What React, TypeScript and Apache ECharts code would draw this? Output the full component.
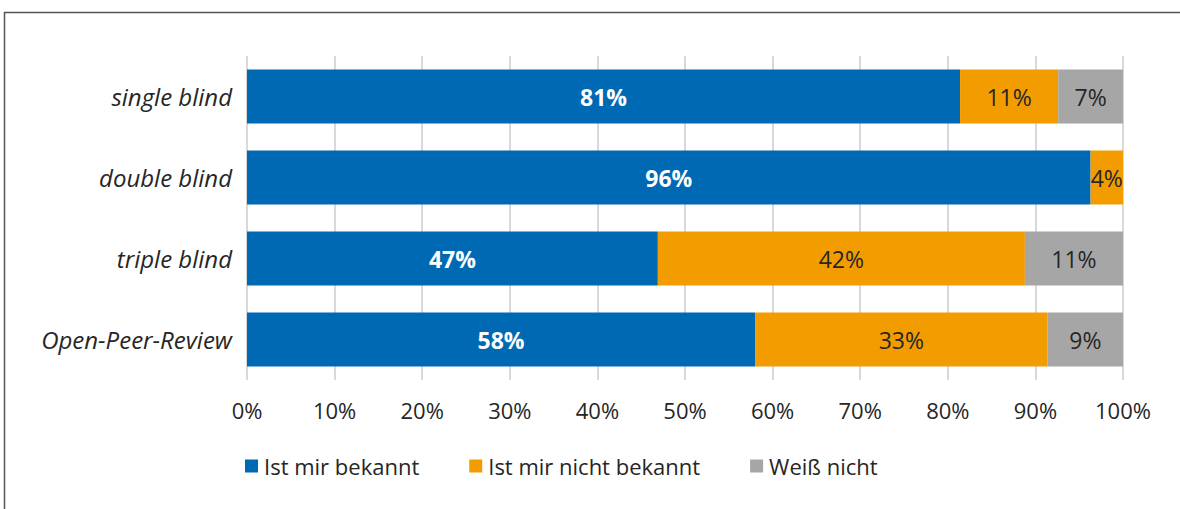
import React, { useEffect, useRef } from "react";
import * as echarts from "echarts";

const categories = ["single blind", "double blind", "triple blind", "Open-Peer-Review"];
const seriesNames = ["Ist mir bekannt", "Ist mir nicht bekannt", "Weiß nicht"];
const known = [81.4, 96.3, 46.9, 58.0];
const notKnown = [11.2, 3.7, 41.9, 33.4];
const dontKnow = [7.4, 0, 11.2, 8.6];
const colors = ["#0069B4", "#F39C00", "#A6A6A6"];

const FONT = "Open Sans";
const TEXT = "#262626";

export default function App() {
  const ref = useRef<HTMLDivElement>(null);
  useEffect(() => {
    const chart = echarts.init(ref.current!, null, { renderer: "svg" });
    const mk = (name: string, data: number[], i: number) => ({
      name,
      type: "bar",
      stack: "total",
      data,
      barWidth: 54,
      itemStyle: { color: colors[i] },
      label: {
        show: true,
        position: "inside",
        fontFamily: FONT,
        fontSize: 23,
        fontWeight: i === 0 ? "bold" : "normal",
        color: i === 0 ? "#ffffff" : TEXT,
        formatter: (p: any) => (p.value > 0 ? Math.round(p.value) + "%" : ""),
      },
    });
    chart.setOption({
      animation: false,
      graphic: [
        { type: "line", shape: { x1: 4, y1: 12.5, x2: 1180, y2: 12.5 }, style: { stroke: "#555", lineWidth: 1.5 } },
        { type: "line", shape: { x1: 4.5, y1: 12, x2: 4.5, y2: 509 }, style: { stroke: "#555", lineWidth: 1.5 } },
      ],
      grid: { left: 247, right: 57, top: 56, bottom: 129 },
      legend: {
        left: 240,
        top: 450,
        itemWidth: 13,
        itemHeight: 13,
        itemGap: 50,
        icon: "rect",
        textStyle: { fontFamily: FONT, fontSize: 22, color: TEXT, padding: [0, 0, 0, 1] },
        data: seriesNames,
      },
      xAxis: {
        type: "value",
        min: 0,
        max: 100,
        interval: 10,
        axisLine: { show: false },
        axisTick: { show: false },
        axisLabel: { formatter: "{value}%", fontFamily: FONT, fontSize: 22, color: TEXT, margin: 19 },
        splitLine: { show: true, lineStyle: { color: "#d9d9d9", width: 2 } },
      },
      yAxis: {
        type: "category",
        data: categories,
        inverse: true,
        axisLine: { show: false },
        axisTick: { show: false },
        axisLabel: { fontFamily: FONT, fontSize: 24, fontStyle: "italic", color: TEXT, margin: 15 },
      },
      series: [mk(seriesNames[0], known, 0), mk(seriesNames[1], notKnown, 1), mk(seriesNames[2], dontKnow, 2)],
    });
    return () => chart.dispose();
  }, []);
  return <div ref={ref} style={{ position: "absolute", left: 0, top: 0, width: 1180, height: 509, background: "#fff" }} />;
}
